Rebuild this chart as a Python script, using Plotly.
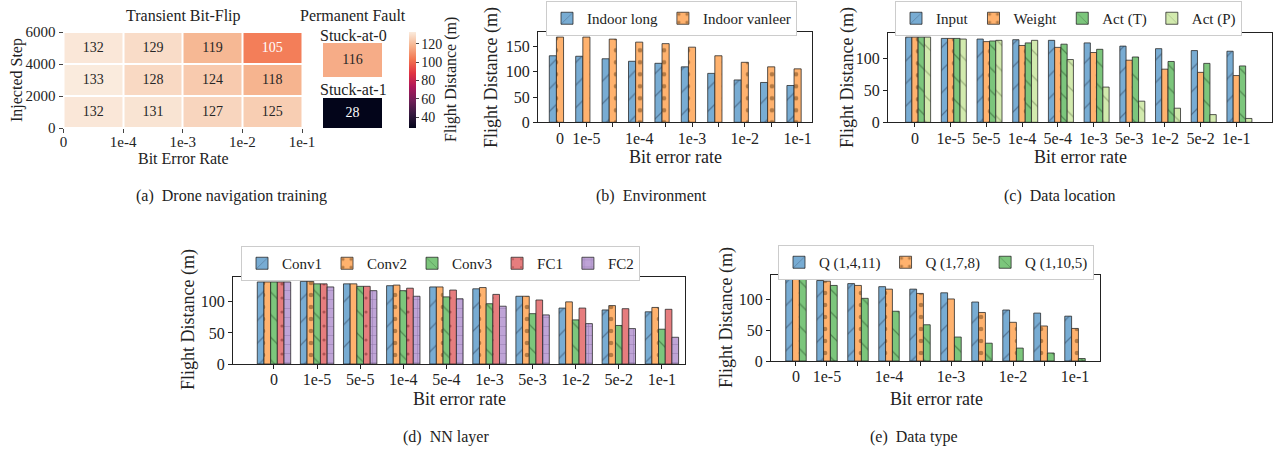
import plotly.graph_objects as go

W, H = 1278, 453
def fx(p): return p / W
def fy(p): return 1 - p / H

FONT = "Liberation Serif"

# ---------------- data ----------------
heat_ber_labels = ["0", "1e-4", "1e-3", "1e-2", "1e-1"]
heat_steps = [0, 2000, 4000, 6000]
heat_rows = [[132, 131, 127, 125],   # 0-2000
             [133, 128, 124, 118],   # 2000-4000
             [132, 129, 119, 105]]   # 4000-6000
stuck_at_0 = 116
stuck_at_1 = 28

ber_full = ["0", "1e-5", "5e-5", "1e-4", "5e-4", "1e-3", "5e-3", "1e-2", "5e-2", "1e-1"]
ber_sparse = ["0", "1e-5", "", "1e-4", "", "1e-3", "", "1e-2", "", "1e-1"]

env_names = ["Indoor long", "Indoor vanleer"]
env_long = [132, 131, 126, 121, 117, 110, 97, 84, 79, 73]
env_vanleer = [169, 169, 165, 159, 156, 149, 132, 119, 110, 106]

loc_names = ["Input", "Weight", "Act (T)", "Act (P)"]
loc_input = [133, 131, 130, 129, 128, 124, 119, 115, 112, 111]
loc_weight = [133, 131, 126, 120, 117, 109, 97, 83, 78, 73]
loc_act_t = [133, 131, 127, 124, 122, 114, 102, 95, 92, 88]
loc_act_p = [133, 130, 128, 128, 98, 55, 33, 22, 12, 6]

layer_names = ["Conv1", "Conv2", "Conv3", "FC1", "FC2"]
layer_conv1 = [132, 133, 129, 126, 124, 121, 109, 90, 87, 84]
layer_conv2 = [132, 133, 129, 127, 124, 123, 109, 100, 94, 91]
layer_conv3 = [132, 129, 125, 118, 108, 97, 81, 71, 62, 56]
layer_fc1 = [132, 129, 125, 122, 119, 112, 103, 90, 89, 88]
layer_fc2 = [132, 124, 118, 109, 105, 93, 79, 65, 57, 43]

type_names = ["Q (1,4,11)", "Q (1,7,8)", "Q (1,10,5)"]
type_q4 = [133, 131, 126, 121, 117, 111, 96, 83, 78, 73]
type_q7 = [133, 130, 123, 117, 110, 101, 79, 63, 57, 53]
type_q10 = [133, 123, 102, 81, 59, 39, 29, 21, 13, 4]

# ---------------- styles ----------------
rocket = [[0.0, "#03051a"], [1/7, "#35193e"], [2/7, "#701f57"], [3/7, "#ad1759"],
          [4/7, "#e13342"], [5/7, "#f37651"], [6/7, "#f6b48f"], [1.0, "#faebdd"]]

C_BLUE = "#78acd3"
C_ORANGE = "#ffb26e"
C_GREEN = "#7cc67c"
C_LGREEN = "#d2eaae"
C_RED = "#e67d7e"
C_PURPLE = "#bfa4d7"
EDGE = dict(color="rgba(35,35,35,0.85)", width=0.9)

STY = {
    "blue": (C_BLUE, dict(shape="/", fgcolor="rgba(30,40,60,0.8)", size=16, solidity=0.08)),
    "orange": (C_ORANGE, dict(shape=".", fgcolor="rgba(80,45,10,0.85)", size=12, solidity=0.12)),
    "green": (C_GREEN, dict(shape="\\", fgcolor="rgba(20,50,20,0.8)", size=16, solidity=0.08)),
    "lgreen": (C_LGREEN, dict(shape="\\", fgcolor="rgba(60,80,40,0.7)", size=18, solidity=0.07)),
    "red": (C_RED, dict(shape=".", fgcolor="rgba(90,20,20,0.8)", size=14, solidity=0.04)),
    "purple": (C_PURPLE, dict(shape="+", fgcolor="rgba(60,40,90,0.75)", size=9, solidity=0.1)),
}

fig = go.Figure()

# ---------------- (a) heatmap ----------------
cx = [i + 0.5 for i in range(len(heat_rows[0]))]
cy = [(heat_steps[j] + heat_steps[j + 1]) / 2 for j in range(len(heat_rows))]
fig.add_trace(go.Heatmap(x=cx, y=cy, z=heat_rows, coloraxis="coloraxis",
                         xgap=2, ygap=2, xaxis="x", yaxis="y", hoverinfo="skip"))
tx, ty, tt, tc = [], [], [], []
for j, row in enumerate(heat_rows):
    for i, v in enumerate(row):
        tx.append(cx[i]); ty.append(cy[j]); tt.append(str(v))
        tc.append("white" if v < 110 else "#262626")
fig.add_trace(go.Scatter(x=tx, y=ty, text=tt, mode="text", xaxis="x", yaxis="y",
                         textfont=dict(family=FONT, size=14, color=tc), showlegend=False,
                         hoverinfo="skip"))

for ax, val in (("2", stuck_at_0), ("3", stuck_at_1)):
    fig.add_trace(go.Heatmap(x=[0.5], y=[0.5], z=[[val]], coloraxis="coloraxis",
                             xaxis="x" + ax, yaxis="y" + ax, hoverinfo="skip"))
    fig.add_trace(go.Scatter(x=[0.5], y=[0.5], text=[str(val)], mode="text",
                             xaxis="x" + ax, yaxis="y" + ax, showlegend=False,
                             textfont=dict(family=FONT, size=14,
                                           color="white" if val < 110 else "#262626"),
                             hoverinfo="skip"))

# ---------------- bar helper ----------------
def add_bars(series, names, styles, width, offsets, ax, legend):
    for vals, name, st, off in zip(series, names, styles, offsets):
        col, pat = STY[st]
        fig.add_trace(go.Bar(
            x=[i + off for i in range(len(vals))], y=vals, width=width, name=name,
            marker=dict(color=col, line=EDGE, pattern=pat),
            xaxis="x" + ax, yaxis="y" + ax, legend=legend, hoverinfo="skip"))

add_bars([env_long, env_vanleer], env_names, ["blue", "orange"], 0.27,
         [-0.27, 0.0], "4", "legend")
add_bars([loc_input, loc_weight, loc_act_t, loc_act_p], loc_names,
         ["blue", "orange", "green", "lgreen"], 0.175, [-0.175, 0.0, 0.175, 0.35], "5", "legend2")
add_bars([layer_conv1, layer_conv2, layer_conv3, layer_fc1, layer_fc2], layer_names,
         ["blue", "orange", "green", "red", "purple"], 0.155,
         [-0.31, -0.155, 0.0, 0.155, 0.31], "6", "legend3")
add_bars([type_q4, type_q7, type_q10], type_names, ["blue", "orange", "green"], 0.22,
         [-0.22, 0.0, 0.22], "7", "legend4")

# ---------------- layout ----------------
tick_font = dict(family=FONT, size=16, color="#222")

def bar_axes(ax, xd, yd, xr, yr, yticks, xlabels):
    xa = dict(domain=[fx(xd[0]), fx(xd[1])], range=xr, tickvals=list(range(len(xlabels))),
              ticktext=xlabels, ticks="outside", ticklen=4, tickcolor="#222",
              showline=True, linecolor="#222", linewidth=1, mirror=True, showgrid=False,
              zeroline=False, tickfont=tick_font, fixedrange=True, automargin=False,
              ticklabelstandoff=-3, anchor="y" + ax)
    ya = dict(domain=[fy(yd[1]), fy(yd[0])], range=yr, tickvals=yticks,
              ticks="outside", ticklen=4, tickcolor="#222",
              showline=True, linecolor="#222", linewidth=1, mirror=True, showgrid=False,
              zeroline=False, tickfont=tick_font, fixedrange=True, automargin=False,
              anchor="x" + ax)
    return xa, ya

xa4, ya4 = bar_axes("4", (538, 812), (32.3, 122.3), [-0.833, 9.545], [0, 178.5], [0, 50, 100, 150], ber_sparse)
xa5, ya5 = bar_axes("5", (888, 1272), (33.3, 122.3), [-0.756, 10.0], [0, 139], [0, 50, 100], ber_full)
xa6, ya6 = bar_axes("6", (233, 685), (277, 364), [-0.951, 9.536], [0, 140], [0, 50, 100], ber_full)
xa7, ya7 = bar_axes("7", (771, 1100), (275, 361), [-0.806, 9.806], [0, 140], [0, 50, 100], ber_sparse)

hidden = dict(visible=False, range=[0, 1], fixedrange=True, automargin=False)

def legend_cfg(x, y, ew=None):
    d = dict(x=fx(x), y=fy(y), xanchor="left", yanchor="top", orientation="h",
             bgcolor="white", bordercolor="#cccccc", borderwidth=1,
             font=dict(family=FONT, size=15, color="#222"), itemclick=False,
             tracegroupgap=0)
    return d

def ann(text, x, y, size=17, angle=0):
    return dict(text=text, x=fx(x), y=fy(y), xref="paper", yref="paper", showarrow=False,
                textangle=angle, xanchor="center", yanchor="middle",
                font=dict(family=FONT, size=size, color="#222"))

annotations = [
    ann("Transient Bit-Flip", 183, 16, 16),
    ann("Permanent Fault", 353, 16, 16),
    ann("Stuck-at-0", 353, 36, 16),
    ann("Stuck-at-1", 353, 89, 16),
    ann("Injected Step", 17, 80, 16, -90),
    ann("Bit Error Rate", 183, 158, 16),
    ann("Flight Distance (m)", 451, 80, 16, -90),
    ann("Flight Distance (m)", 491, 78, 18, -90),
    ann("Bit error rate", 675, 157, 18),
    ann("Flight Distance (m)", 847, 78, 18, -90),
    ann("Bit error rate", 1080, 157, 18),
    ann("Flight Distance (m)", 188, 320, 18, -90),
    ann("Bit error rate", 459, 399, 18),
    ann("Flight Distance (m)", 726, 318, 18, -90),
    ann("Bit error rate", 936, 399, 18),
    ann("(a)  Drone navigation training", 231, 196, 16),
    ann("(b)  Environment", 651, 196, 16),
    ann("(c)  Data location", 1060, 196, 16),
    ann("(d)  NN layer", 446, 437, 16),
    ann("(e)  Data type", 914, 437, 16),
]

heat_tick_font = dict(family=FONT, size=15, color="#222")

fig.update_layout(
    width=W, height=H, margin=dict(l=0, r=0, t=0, b=0, autoexpand=False),
    paper_bgcolor="white", plot_bgcolor="white",
    barmode="overlay", showlegend=True,
    font=dict(family=FONT, color="#222"),
    coloraxis=dict(colorscale=rocket, cmin=28, cmax=133,
                   colorbar=dict(x=fx(409), xanchor="left", y=fy(80), yanchor="middle",
                                 len=96 / H, lenmode="fraction", thickness=7,
                                 thicknessmode="pixels", outlinewidth=0, ticks="outside",
                                 ticklen=3, tickvals=[40, 60, 80, 100, 120],
                                 tickfont=dict(family=FONT, size=14, color="#222"),
                                 xpad=0, ypad=0)),
    xaxis=dict(domain=[fx(63.5), fx(302)], range=[0, 4], tickvals=list(range(5)),
               ticktext=heat_ber_labels, ticks="outside", ticklen=4, showgrid=False,
               zeroline=False, showline=False, tickfont=heat_tick_font, anchor="y",
               fixedrange=True, automargin=False, ticklabelstandoff=-4),
    yaxis=dict(domain=[fy(128), fy(32)], range=[0, 6000], tickvals=heat_steps,
               ticks="outside", ticklen=4, showgrid=False, zeroline=False, showline=False,
               tickfont=heat_tick_font, anchor="x", fixedrange=True, automargin=False),
    xaxis2=dict(domain=[fx(323), fx(382)], anchor="y2", **hidden),
    yaxis2=dict(domain=[fy(77), fy(43)], anchor="x2", **hidden),
    xaxis3=dict(domain=[fx(323), fx(382)], anchor="y3", **hidden),
    yaxis3=dict(domain=[fy(128), fy(98)], anchor="x3", **hidden),
    xaxis4=xa4, yaxis4=ya4, xaxis5=xa5, yaxis5=ya5,
    xaxis6=xa6, yaxis6=ya6, xaxis7=xa7, yaxis7=ya7,
    legend=legend_cfg(546, 1),
    legend2=legend_cfg(895, 1),
    legend3=legend_cfg(241, 246),
    legend4=legend_cfg(778, 245),
    annotations=annotations,
)

fig.write_html("out.html", config={"displayModeBar": False},
               post_script="document.body.style.margin='0';document.body.style.overflow='hidden';")
